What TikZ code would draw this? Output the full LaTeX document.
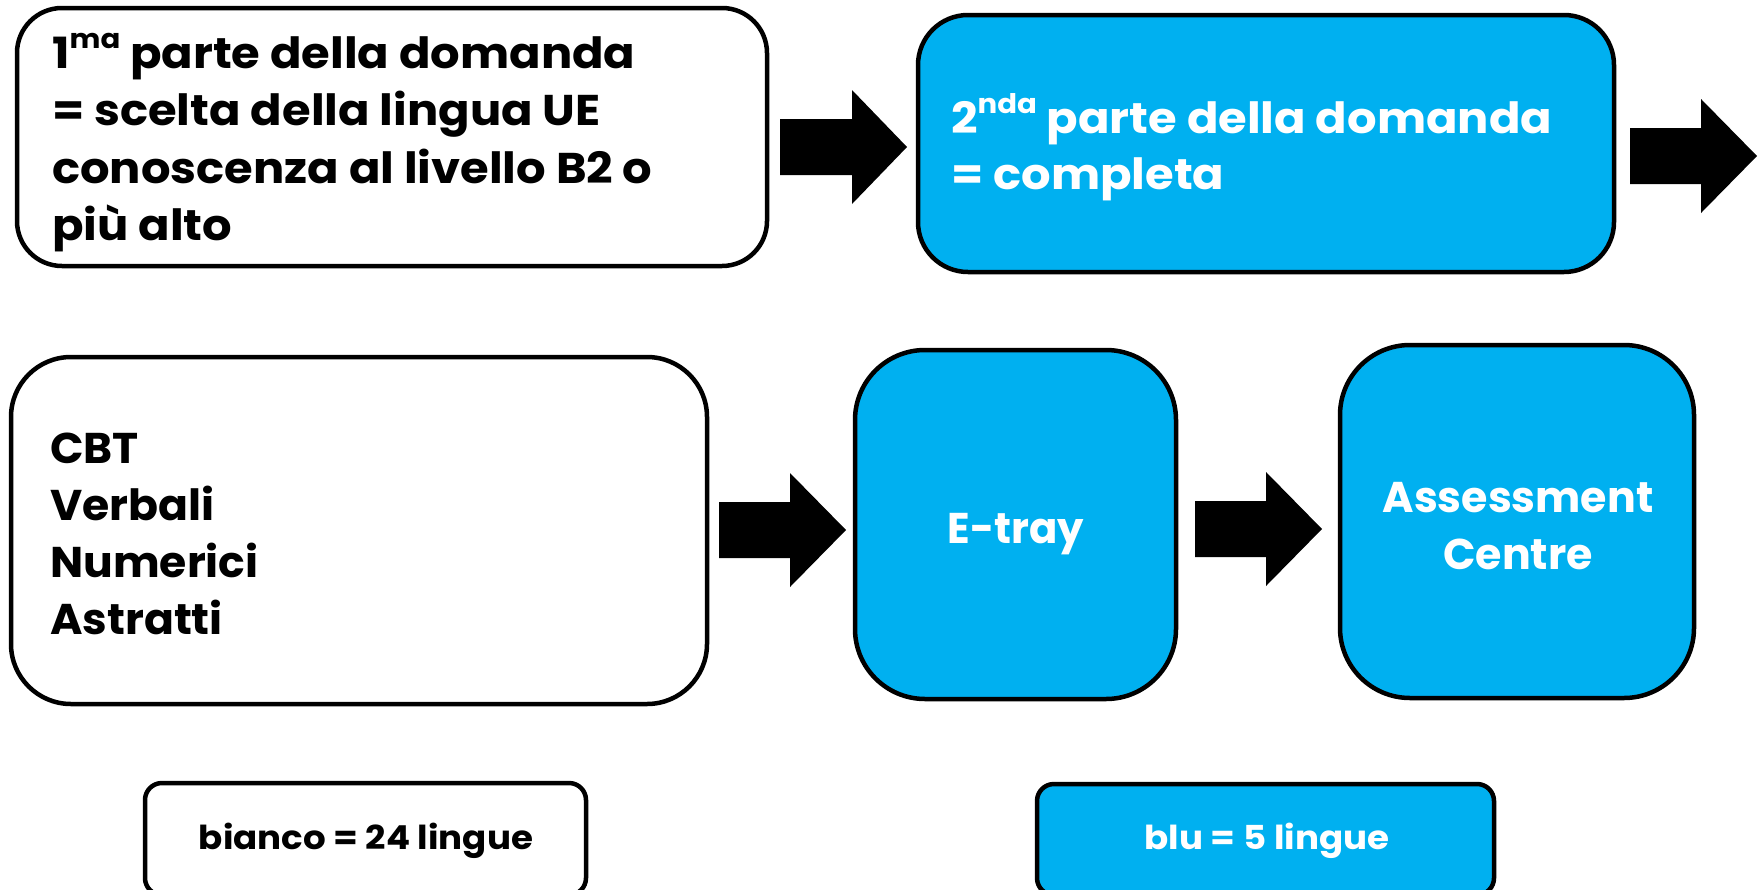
\documentclass[tikz,border=0pt]{standalone}
\usepackage{fontspec}
\usepackage{graphicx}
\setmainfont{Poppins}[FakeStretch=1.08]
\definecolor{eublue}{HTML}{00B0F0}
\begin{document}
\begin{tikzpicture}[x=1pt,y=-1pt,
  box/.style={draw=black,line width=4.5pt,inner sep=0pt},
  whitebox/.style={box,fill=white},
  bluebox/.style={box,fill=eublue},
  bigtxt/.style={inner sep=0pt,font=\fontsize{43}{57.5}\selectfont\bfseries},
  smalltxt/.style={inner sep=0pt,font=\fontsize{33}{38}\selectfont\bfseries}]
\useasboundingbox (0,0) rectangle (1764,889);
\newcommand{\blockarrow}[4]{%
  \fill[black] (#1,#4-28) -- (#2,#4-28) -- (#2,#4-57) -- (#3,#4) -- (#2,#4+57) -- (#2,#4+28) -- (#1,#4+28) -- cycle;}
\newcommand{\supx}[1]{\raisebox{0.45em}{\fontsize{27}{27}\selectfont #1}}
\newcommand{\hsq}[2]{\scalebox{#1}[1]{#2}}
% boxes
\draw[whitebox,rounded corners=45pt] (17,8) rectangle (767,266);
\draw[bluebox,rounded corners=50pt] (918,15) rectangle (1614,272);
\draw[whitebox,rounded corners=60pt] (11,357) rectangle (707,704);
\draw[bluebox,rounded corners=70pt] (855,350) rectangle (1176,699);
\draw[bluebox,rounded corners=70pt] (1340,345) rectangle (1694,698);
\draw[whitebox,rounded corners=17pt] (145,783) rectangle (586,895);
\draw[bluebox,rounded corners=17pt] (1037,784) rectangle (1494,895);
% arrows
\blockarrow{780}{852}{907}{147}
\blockarrow{1630}{1701}{1757}{156}
\blockarrow{719}{790}{846}{530}
\blockarrow{1195}{1266}{1322}{529}
% texts
\node[bigtxt,anchor=base west] (t1a) at (52,68) {1\supx{ma} parte della domanda};
\node[bigtxt,anchor=base west] (t1b) at (52,125) {= scelta della lingua UE};
\node[bigtxt,anchor=base west] (t1c) at (52,183) {conoscenza al livello B2 o};
\node[bigtxt,anchor=base west] (t1d) at (52,240) {più alto};
\node[bigtxt,anchor=base west,text=white] (t2a) at (951,133) {2\supx{nda} parte della domanda};
\node[bigtxt,anchor=base west,text=white] (t2b) at (951,189) {= completa};
\node[bigtxt,anchor=base west] (t3a) at (50,463) {\hsq{0.95}{CBT}};
\node[bigtxt,anchor=base west] (t3b) at (50,520) {\hsq{0.95}{Verbali}};
\node[bigtxt,anchor=base west] (t3c) at (50,577) {\hsq{0.95}{Numerici}};
\node[bigtxt,anchor=base west] (t3d) at (50,634) {\hsq{0.95}{Astratti}};
\node[bigtxt,anchor=base,text=white] (t4) at (1016,543) {\hsq{0.9}{E-tray}};
\node[bigtxt,anchor=base,text=white] (t5a) at (1518,512) {\hsq{0.92}{Assessment}};
\node[bigtxt,anchor=base,text=white] (t5b) at (1518,569) {\hsq{0.92}{Centre}};
\node[smalltxt,anchor=base] (l1) at (366,849) {bianco = 24 lingue};
\node[smalltxt,anchor=base,text=white] (l2) at (1267,849) {blu = 5 lingue};
\end{tikzpicture}
\end{document}
